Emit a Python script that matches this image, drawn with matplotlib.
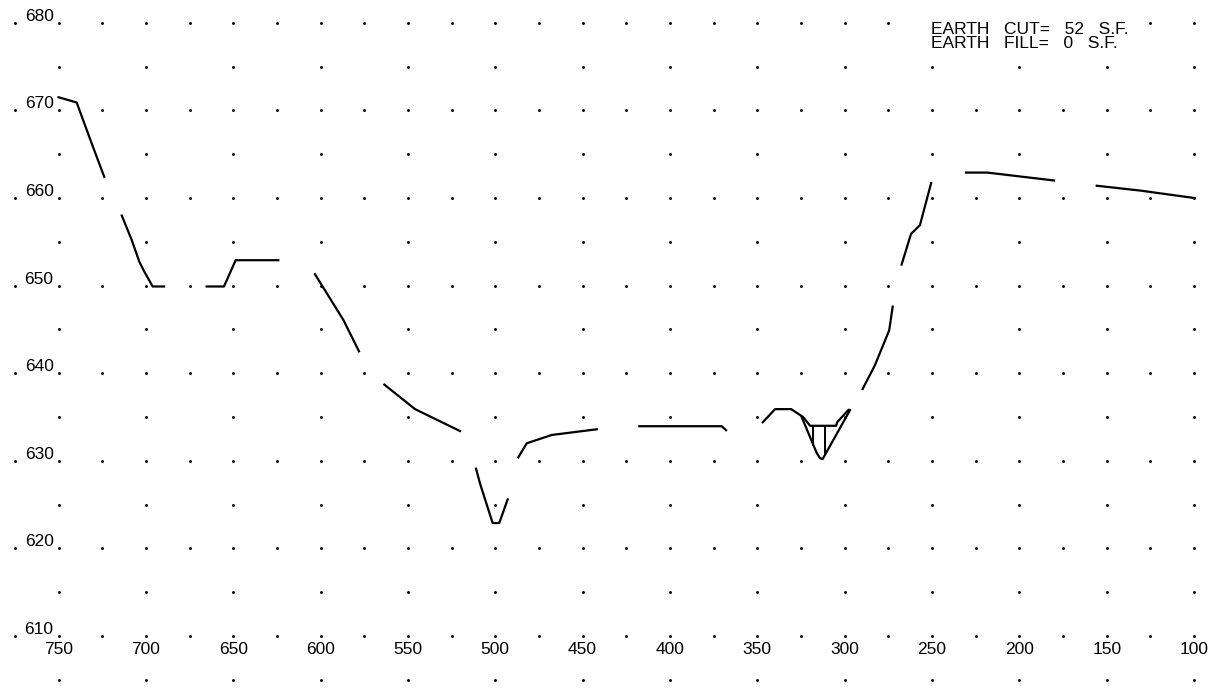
import numpy as np
import matplotlib
matplotlib.use("Agg")
import matplotlib.pyplot as plt

nan = np.nan

# existing ground profile (station, elevation); nan = gap in the dashed line
ground_sta = [750, 739.6, 735.2, 730.4, 723.8, nan,
              713.8, 708.1, 703.7, 700.9, 696.1, 689.6, nan,
              665.2, 655.3, 648.6, 624.2, nan,
              603.2, 587.0, 578.0, nan,
              563.5, 545.9, 520.2, nan,
              511.0, 508.7, 501.5, 497.7, 492.9, nan,
              486.8, 482.0, 467.7, 441.9, nan,
              417.5, 370.4, 367.9, nan,
              346.9, 339.8, 330.6, 323.8, 319.8, 304.9, 304.3, 297.9, nan,
              289.7, 282.7, 274.5, 272.5, nan,
              267.4, 262.0, 256.9, 250.5, nan,
              230.5, 218.3, 180.2, nan,
              155.7, 130.9, 99.9]
ground_elev = [671.5, 670.9, 668.5, 665.9, 662.4, nan,
               658.0, 655.2, 652.7, 651.6, 649.9, 649.9, nan,
               649.9, 649.9, 652.9, 652.9, nan,
               651.3, 646.1, 642.5, nan,
               638.7, 635.9, 633.4, nan,
               629.1, 627.4, 622.9, 622.9, 625.6, nan,
               630.4, 632.0, 632.95, 633.6, nan,
               633.95, 633.95, 633.5, nan,
               634.4, 635.9, 635.9, 635.0, 634.0, 634.0, 634.4, 635.8, nan,
               638.2, 640.9, 644.9, 647.6, nan,
               652.4, 655.9, 656.9, 661.7, nan,
               662.9, 662.9, 662.0, nan,
               661.4, 660.85, 660.0]

# ditch section
ditch_sta = [324.6, 316.0, 314.1, 312.6, 296.9]
ditch_elev = [635.0, 630.9, 630.3, 630.2, 635.8]

# cut hatch
hatch_sta = [317.9, 311.2]
hatch_top = 634.0

x_ticks = list(range(750, 99, -50))
y_ticks = list(range(610, 681, 10))

cut_text = "EARTH   CUT=   52   S.F."
fill_text = "EARTH   FILL=   0   S.F."

plt.rcParams['font.family'] = ['Liberation Sans', 'DejaVu Sans']

fig = plt.figure(figsize=(12.15, 7), dpi=100)
ax = fig.add_axes([0, 0, 1, 1])
ax.set_xlim(783.5, 88.0)
ax.set_ylim(602.7, 682.6)
ax.axis('off')

# dot grid
for yv in range(605, 681, 5):
    if yv % 10 == 0:
        xs = np.arange(775, 99, -25)
    else:
        xs = np.arange(750, 99, -50)
    ax.plot(xs, np.full(len(xs), yv), linestyle='none', marker='o',
            markersize=1.1, color='black', zorder=1)

# labels
for v in y_ticks:
    ax.annotate(str(v), xy=(750, v), xytext=(-5, 2), textcoords='offset pixels',
                ha='right', va='baseline', fontsize=12.5)
for v in x_ticks:
    ax.annotate(str(v), xy=(v, 610), xytext=(0, -6), textcoords='offset pixels',
                ha='center', va='top', fontsize=12.5)

ax.plot(ground_sta, ground_elev, color='black', lw=1.6, zorder=3)
ax.plot(ditch_sta, ditch_elev, color='black', lw=1.6, zorder=3)
for s in hatch_sta:
    bottom = np.interp(s, ditch_sta[::-1], ditch_elev[::-1])
    ax.plot([s, s], [hatch_top, bottom], color='black', lw=1.4, zorder=3)

fig.text(931 / 1215, 1 - 22 / 700, cut_text, ha='left', va='top', fontsize=12.5,
         bbox=dict(facecolor='white', edgecolor='none', pad=3), zorder=5)
fig.text(931 / 1215, 1 - 36 / 700, fill_text, ha='left', va='top', fontsize=12.5,
         zorder=6)

fig.savefig("out.png", dpi=100)
